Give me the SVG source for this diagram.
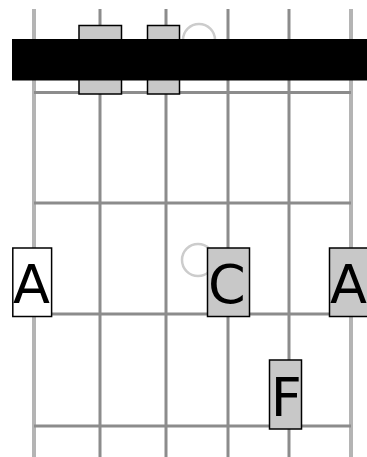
<svg xmlns="http://www.w3.org/2000/svg" width="367" height="457" viewBox="0 0 367 457">
<style>
.s{stroke:#8c8c8c;stroke-width:3;fill:none}
.e{stroke:#b4b4b4;stroke-width:4;fill:none}
.o{stroke:#cccccc;stroke-width:2.5;fill:none}
.b{stroke:#000;stroke-width:1.5}
.g{fill:#c8c8c8}
.w{fill:#fff}
.t{font-family:"DejaVu Sans",sans-serif;font-size:54px;fill:#000}
</style>
<rect width="367" height="457" fill="#fff"/>
<g id="grid">
<line class="e" x1="34" y1="9" x2="34" y2="457"/>
<line class="s" x1="100" y1="9" x2="100" y2="457"/>
<line class="s" x1="166" y1="9" x2="166" y2="457"/>
<line class="s" x1="228" y1="9" x2="228" y2="457"/>
<line class="s" x1="289" y1="9" x2="289" y2="457"/>
<line class="e" x1="351" y1="9" x2="351" y2="457"/>
<line class="s" x1="34" y1="92.5" x2="351" y2="92.5"/>
<line class="s" x1="34" y1="203" x2="351" y2="203"/>
<line class="s" x1="34" y1="314" x2="351" y2="314"/>
<line class="s" x1="34" y1="426" x2="351" y2="426"/>
</g>
<g id="open1"><circle class="o" cx="199" cy="40" r="16"/></g>
<g id="n1"><rect class="g b" x="79" y="25.5" width="42.5" height="68.5"/></g>
<g id="n2"><rect class="g b" x="147.5" y="25.5" width="32" height="68.5"/></g>
<g id="nut"><rect x="12" y="39" width="360" height="41.5" fill="#000"/></g>
<g id="open2"><circle class="o" cx="198" cy="260" r="16"/></g>
<g id="nA1"><rect class="w b" x="12.8" y="248" width="38.8" height="68.5"/><text class="t" x="13" y="302.5">A</text></g>
<g id="nC"><rect class="g b" x="207.5" y="248" width="42" height="68.5"/><text class="t" x="208" y="302.5">C</text></g>
<g id="nA2"><rect class="g b" x="329.5" y="248" width="40" height="68.5"/><text class="t" x="330" y="302.5">A</text></g>
<g id="nF"><rect class="g b" x="269.5" y="360" width="32" height="69"/><text class="t" x="270.8" y="415.5">F</text></g>
</svg>
